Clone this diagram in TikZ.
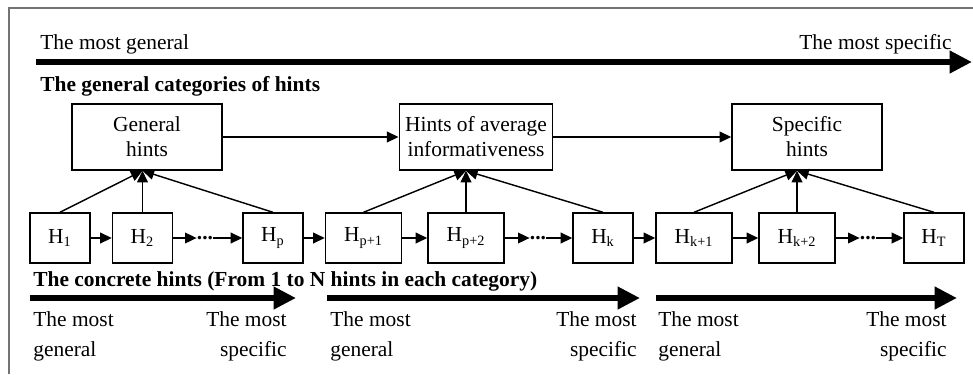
\documentclass[tikz,border=0pt]{standalone}
\usepackage{fontspec}
\setmainfont{Liberation Serif}
\usetikzlibrary{arrows.meta,positioning}

\begin{document}
\begin{tikzpicture}[x=0.56pt,y=-0.56pt]
\tikzstyle{cat}=[rectangle,draw=black,line width=0.8pt,minimum width=84pt,minimum height=37pt,align=center,font=\fontsize{12}{14}\selectfont]
\tikzstyle{hint}=[rectangle,draw=black,line width=0.8pt,minimum width=33.6pt,minimum height=28pt,font=\fontsize{12}{14}\selectfont]
\tikzstyle{wide}=[minimum width=42.6pt]
\tikzstyle{dots}=[inner sep=0pt,font=\fontsize{12}{14}\selectfont\bfseries]
\tikzstyle{link}=[line width=0.8pt,-{Triangle[length=6.5pt,width=6pt]}]
\tikzstyle{bigarrow}=[line width=3.6pt,-{Triangle[length=12.5pt,width=12pt]}]
\tikzstyle{lbl}=[inner sep=0pt,font=\fontsize{12}{14}\selectfont]
\tikzstyle{head}=[inner sep=0pt,font=\fontsize{12}{14}\selectfont\bfseries]
\tikzstyle{ends}=[inner sep=0pt,font=\fontsize{12}{16.8}\selectfont]
\useasboundingbox (0,0) rectangle (973,374);
\draw[black!55,line width=0.8pt] (9,374) -- (9,8) -- (973,8);
% top scale
\coordinate (ts) at (36,62);
\coordinate (te) at (972,62);
\draw[bigarrow] (ts) -- (te);
\node[lbl,anchor=base west] (gen0) at (40,49) {The most general};
\node[lbl,anchor=base east] (spec0) at (952,49) {The most specific};
\node[head,anchor=base west] (cathead) at (40,91) {The general categories of hints};
% categories
\node[cat] (gen) at (147,137) {General\\hints};
\node[cat] (avg) at (476,137) {Hints of average\\informativeness};
\node[cat] (spec) at (807,137) {Specific\\hints};
\draw[link] (gen) -- (avg);
\draw[link] (avg) -- (spec);
% concrete hints
\node[hint] (h1) at (60,238) {H\textsubscript{1}};
\node[hint] (h2) at (142.5,238) {H\textsubscript{2}};
\node[dots] (d1) at (205,238) {...};
\node[hint] (hp) at (273,238) {H\textsubscript{p}};
\node[hint,wide] (hp1) at (363.5,238) {H\textsubscript{p+1}};
\node[hint,wide] (hp2) at (466,238) {H\textsubscript{p+2}};
\node[dots] (d2) at (538,238) {...};
\node[hint] (hk) at (603,238) {H\textsubscript{k}};
\node[hint,wide] (hk1) at (694,238) {H\textsubscript{k+1}};
\node[hint,wide] (hk2) at (797,238) {H\textsubscript{k+2}};
\node[dots] (d3) at (868,238) {...};
\node[hint] (hT) at (934,238) {H\textsubscript{T}};
\draw[link] (h1) -- (h2);
\draw[link] (h2) -- (d1);
\draw[link] (d1) -- (hp);
\draw[link] (hp) -- (hp1);
\draw[link] (hp1) -- (hp2);
\draw[link] (hp2) -- (d2);
\draw[link] (d2) -- (hk);
\draw[link] (hk) -- (hk1);
\draw[link] (hk1) -- (hk2);
\draw[link] (hk2) -- (d3);
\draw[link] (d3) -- (hT);
% links up to the categories
\coordinate (g) at (h2.north |- gen.south);
\coordinate (a) at (hp2.north |- avg.south);
\coordinate (s) at (hk2.north |- spec.south);
\draw[link] (h1.north) -- (g);
\draw[link] (h2.north) -- (g);
\draw[link] (hp.north) -- (g);
\draw[link] (hp1.north) -- (a);
\draw[link] (hp2.north) -- (a);
\draw[link] (hk.north) -- (a);
\draw[link] (hk1.north) -- (s);
\draw[link] (hk2.north) -- (s);
\draw[link] (hT.north) -- (s);
\node[head,anchor=base west] (hinthead) at (33,286) {The concrete hints (From 1 to N hints in each category)};
% bottom scales
\coordinate (a1) at (30,298);
\coordinate (b1) at (296,298);
\coordinate (a2) at (327,298);
\coordinate (b2) at (640,298);
\coordinate (a3) at (656,298);
\coordinate (b3) at (957,298);
\draw[bigarrow] (a1) -- (b1);
\draw[bigarrow] (a2) -- (b2);
\draw[bigarrow] (a3) -- (b3);
\node[ends,anchor=north west,align=left] (g1) at (33,311) {The most\\general};
\node[ends,anchor=north east,align=right] (s1) at (287,311) {The most\\specific};
\node[ends,anchor=north west,align=left] (g2) at (330,311) {The most\\general};
\node[ends,anchor=north east,align=right] (s2) at (637,311) {The most\\specific};
\node[ends,anchor=north west,align=left] (g3) at (658,311) {The most\\general};
\node[ends,anchor=north east,align=right] (s3) at (947,311) {The most\\specific};
\end{tikzpicture}
\end{document}
